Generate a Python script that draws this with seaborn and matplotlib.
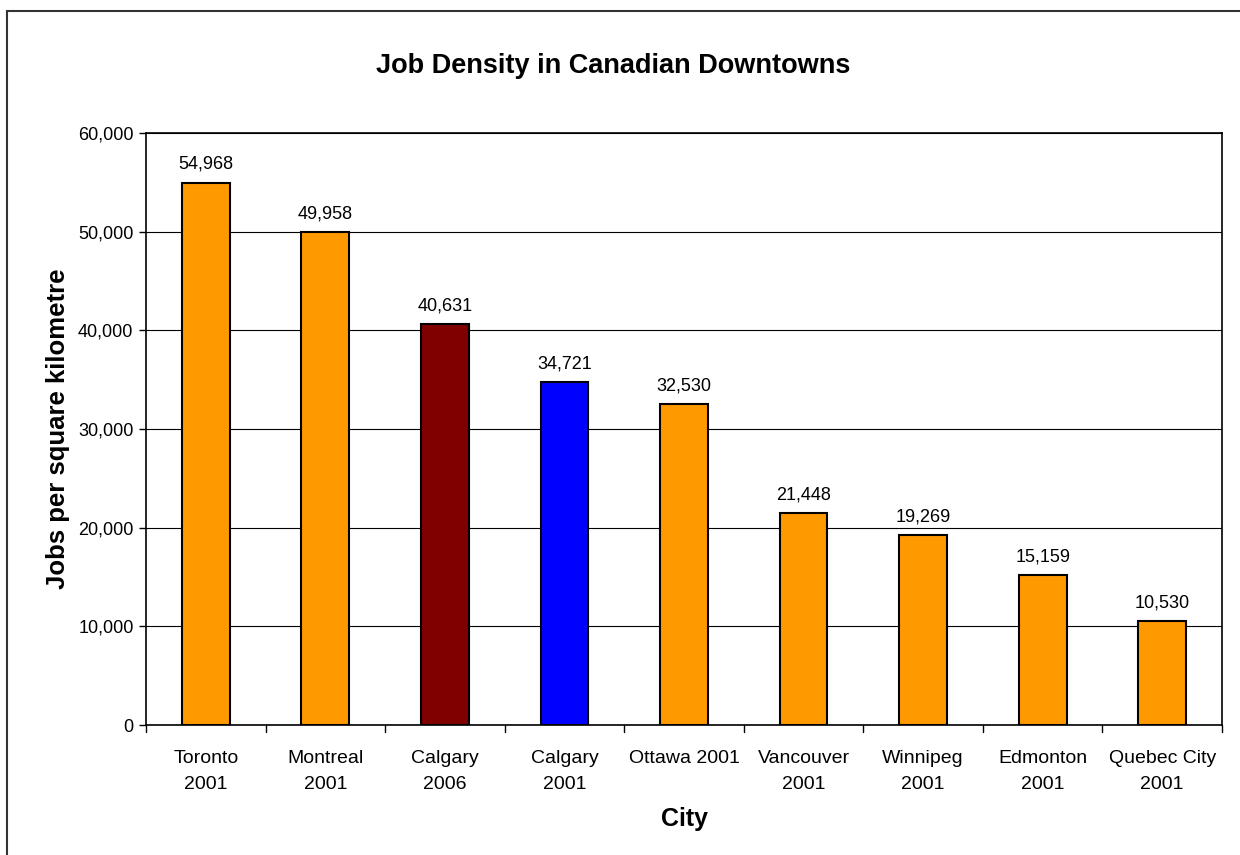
import matplotlib
matplotlib.use("Agg")
import matplotlib.pyplot as plt
import seaborn as sns
import pandas as pd
from matplotlib.patches import Rectangle
from matplotlib.transforms import blended_transform_factory

cities = ["Toronto\n2001", "Montreal\n2001", "Calgary\n2006", "Calgary\n2001", "Ottawa 2001",
          "Vancouver\n2001", "Winnipeg\n2001", "Edmonton\n2001", "Quebec City\n2001"]
values = [54968, 49958, 40631, 34721, 32530, 21448, 19269, 15159, 10530]
bar_colors = ["#FF9900", "#FF9900", "#800000", "#0000FF", "#FF9900",
              "#FF9900", "#FF9900", "#FF9900", "#FF9900"]
y_ticks = [0, 10000, 20000, 30000, 40000, 50000, 60000]

sns.set_theme(style="white")
plt.rcParams['font.family'] = ['Liberation Sans', 'DejaVu Sans']
plt.rcParams['text.color'] = 'black'
plt.rcParams['axes.labelcolor'] = 'black'
plt.rcParams['xtick.color'] = 'black'
plt.rcParams['ytick.color'] = 'black'

df = pd.DataFrame({"city": cities, "value": values})

fig = plt.figure(figsize=(12.4, 8.55), dpi=100)
ax = fig.add_axes([146/1240, 1-725/855, (1222-146)/1240, (725-133)/855])

sns.barplot(data=df, x="city", y="value", hue="city", palette=bar_colors,
            legend=False, width=0.4, edgecolor="black", linewidth=1.5,
            saturation=1, ax=ax, zorder=3)

ax.set_ylim(0, 60000)
ax.set_xlim(-0.5, len(cities) - 0.5)
ax.set_yticks(y_ticks)
ax.set_yticklabels([f"{v:,}" for v in y_ticks], fontsize=13)
ax.yaxis.grid(True, color="black", linewidth=0.8, zorder=0)
ax.set_axisbelow(True)

ax.set_xticks(range(len(cities)))
ax.set_xticklabels(cities, fontsize=14, linespacing=1.7)
ax.tick_params(axis="x", length=0, pad=18)
tr = blended_transform_factory(ax.transData, ax.transAxes)
for b in [i - 0.5 for i in range(len(cities) + 1)]:
    ax.plot([b, b], [0, -0.012], color="black", lw=1, clip_on=False, transform=tr)

ax.tick_params(axis="y", length=5, width=1, direction="out", left=True, pad=4)

for s in ax.spines.values():
    s.set_color("black")
    s.set_linewidth(1.2)

for i, v in enumerate(values):
    ax.text(i, v + 1000, f"{v:,}", ha="center", va="bottom", fontsize=13)

ax.set_xlabel("City", fontsize=18, fontweight="bold", labelpad=10)
ax.set_ylabel("Jobs per square kilometre", fontsize=18.5, fontweight="bold", labelpad=6)
fig.text(613/1240, 1-73/855, "Job Density in Canadian Downtowns",
         ha="center", va="baseline", fontsize=19.5, fontweight="bold")

fig.patches.append(Rectangle((7/1240, -0.1), 1.2, 1-11/855+0.1, transform=fig.transFigure,
                             fill=False, edgecolor="#333333", linewidth=1.5))

fig.savefig("out.png", dpi=100)
